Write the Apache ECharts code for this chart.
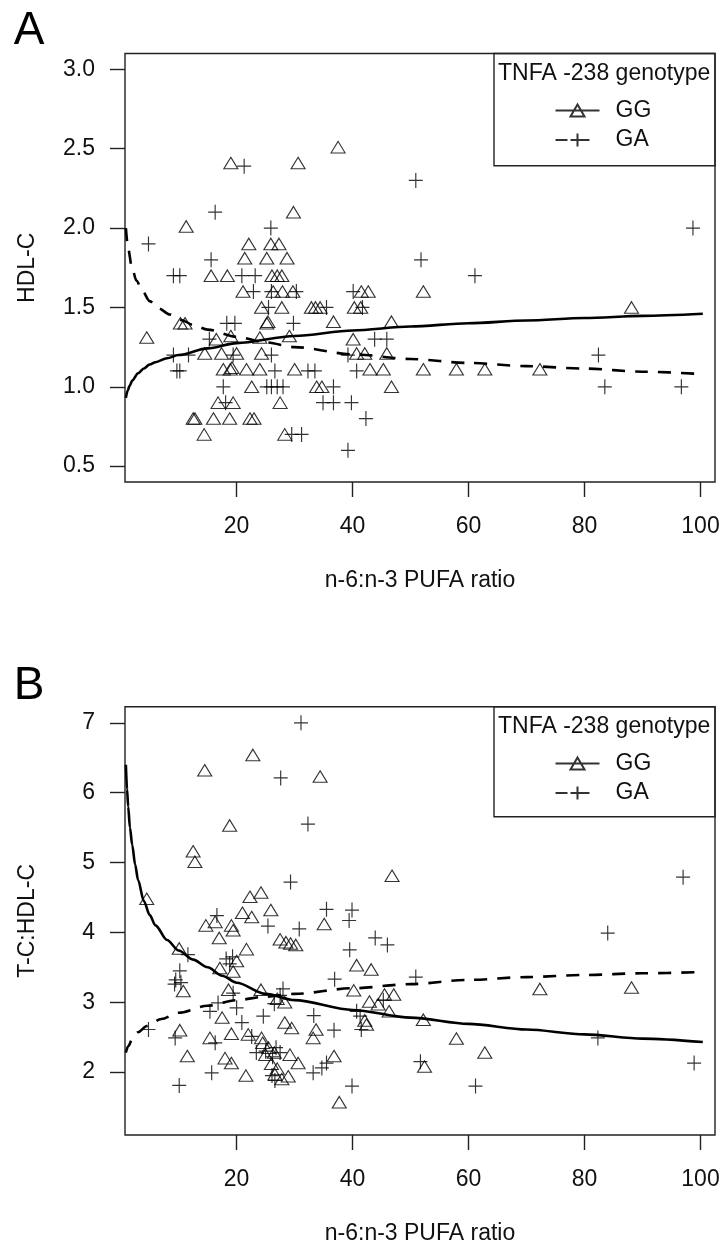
<!DOCTYPE html>
<html>
<head>
<meta charset="utf-8">
<script src="https://cdn.jsdelivr.net/npm/echarts@6/dist/echarts.min.js"></script>
<style>
html, body { margin: 0; padding: 0; background: #fff; }
#chart { width: 723px; height: 1246px; }
</style>
</head>
<body>
<div id="chart"></div>
<script>
// Axis ticks
const xTicks = [20, 40, 60, 80, 100];
const yTicksA = [0.5, 1.0, 1.5, 2.0, 2.5, 3.0];
const yTicksB = [2, 3, 4, 5, 6, 7];

// Panel A: HDL-C vs n-6:n-3 PUFA ratio, GG genotype
const ggA = [
  [37.5, 2.51], [19.0, 2.41], [30.6, 2.41], [29.8, 2.10], [11.3, 2.01],
  [22.1, 1.90], [25.9, 1.90], [27.3, 1.90],
  [21.4, 1.81], [25.2, 1.81], [28.7, 1.81],
  [15.6, 1.70], [18.4, 1.70], [26.1, 1.70], [27.0, 1.70], [27.8, 1.70],
  [21.1, 1.60], [26.3, 1.60], [27.9, 1.60], [29.7, 1.60], [41.5, 1.60], [42.7, 1.60], [52.2, 1.60],
  [24.3, 1.50], [27.8, 1.50], [32.9, 1.50], [33.6, 1.50], [34.4, 1.50], [40.3, 1.50], [41.4, 1.50], [88.1, 1.50],
  [10.3, 1.40], [11.1, 1.40], [25.2, 1.40], [25.4, 1.41], [36.7, 1.41], [46.7, 1.41],
  [4.5, 1.31], [16.5, 1.30], [19.0, 1.32], [24.0, 1.31], [29.1, 1.32], [40.1, 1.30],
  [14.5, 1.21], [17.4, 1.21], [20.0, 1.21], [24.3, 1.21], [40.7, 1.21], [42.1, 1.21], [45.9, 1.21],
  [17.7, 1.11], [18.9, 1.11], [19.2, 1.12], [21.7, 1.11], [24.0, 1.11], [30.0, 1.11], [43.0, 1.11],
  [45.3, 1.11], [52.2, 1.11], [57.9, 1.11], [62.8, 1.11], [72.3, 1.11],
  [22.6, 1.00], [33.8, 1.00], [34.7, 1.00], [46.7, 1.00],
  [16.8, 0.90], [19.4, 0.90], [27.5, 0.90],
  [12.5, 0.80], [12.8, 0.80], [16.0, 0.80], [18.8, 0.80], [22.3, 0.80], [23.0, 0.80],
  [14.4, 0.70], [28.3, 0.70]
];
// Panel A, GA genotype
const gaA = [
  [21.3, 2.39], [50.9, 2.30], [16.3, 2.10], [25.9, 2.00], [98.7, 2.00], [4.8, 1.90],
  [15.6, 1.80], [51.8, 1.80], [9.1, 1.70], [10.2, 1.70], [20.9, 1.70], [23.2, 1.70], [61.1, 1.70],
  [22.9, 1.60], [26.0, 1.60], [30.3, 1.60], [40.1, 1.60],
  [25.5, 1.50], [35.5, 1.50], [41.7, 1.50],
  [18.3, 1.40], [19.7, 1.40], [29.8, 1.40],
  [15.3, 1.30], [43.8, 1.30], [45.9, 1.30],
  [9.1, 1.20], [11.7, 1.20], [19.4, 1.20], [26.0, 1.20], [39.2, 1.20], [82.4, 1.20],
  [9.7, 1.10], [10.2, 1.10], [26.6, 1.10], [32.3, 1.10], [33.5, 1.10], [40.7, 1.10],
  [17.7, 1.00], [25.2, 1.00], [26.0, 1.00], [27.0, 1.00], [28.0, 1.00], [36.7, 1.00], [83.5, 1.00], [96.7, 1.00],
  [18.1, 0.90], [34.9, 0.90], [36.7, 0.90], [39.8, 0.90],
  [42.3, 0.80],
  [29.5, 0.70], [31.2, 0.70],
  [39.2, 0.60]
];
// Panel A fitted curves
const fitGGA = [
  [0.9, 0.93], [1.2, 0.975], [1.6, 1.01], [2, 1.04], [3, 1.085], [4, 1.115], [5, 1.14],
  [6, 1.155], [8, 1.18], [10, 1.2], [15, 1.242], [20, 1.275], [30, 1.32], [40, 1.355],
  [50, 1.38], [60, 1.40], [70, 1.418], [80, 1.433], [90, 1.447], [100.4, 1.46]
];
const fitGAA = [
  [0.9, 2.0], [1.3, 1.87], [1.9, 1.76], [2.7, 1.67], [3.8, 1.6], [5, 1.54], [6.5, 1.495],
  [8.5, 1.455], [10.5, 1.42], [12.5, 1.39], [15, 1.36], [20, 1.315], [25, 1.28], [30, 1.25],
  [40, 1.205], [50, 1.175], [60, 1.15], [70, 1.13], [80, 1.115], [90, 1.095], [100.4, 1.08]
];

// Panel B: T-C:HDL-C vs n-6:n-3 PUFA ratio, GG genotype
const ggB = [
  [22.8, 6.54], [14.5, 6.32], [34.4, 6.23], [18.8, 5.53], [12.5, 5.16], [12.8, 5.01], [46.8, 4.81],
  [4.5, 4.48], [22.3, 4.51], [24.2, 4.57], [25.9, 4.32], [21.0, 4.28], [22.6, 4.22], [14.7, 4.10],
  [16.3, 4.15], [19.1, 4.10], [19.4, 4.03], [35.1, 4.12], [17.0, 3.92], [27.5, 3.90], [28.5, 3.86],
  [29.3, 3.84], [30.2, 3.82], [21.7, 3.76], [10.1, 3.77], [20.0, 3.59], [17.1, 3.49], [19.4, 3.44],
  [40.7, 3.53], [43.2, 3.47], [10.8, 3.16], [18.6, 3.18], [24.2, 3.18], [40.2, 3.17], [42.9, 3.01],
  [45.5, 3.11], [47.1, 3.11], [44.4, 2.97], [46.3, 2.87], [27.0, 3.05], [28.3, 3.00], [72.3, 3.19],
  [88.1, 3.21], [17.5, 2.78], [10.2, 2.60], [15.4, 2.49], [19.1, 2.55], [22.0, 2.54], [24.3, 2.49],
  [28.3, 2.71], [29.5, 2.63], [33.7, 2.61], [33.2, 2.49], [42.1, 2.74], [42.4, 2.68], [52.2, 2.75],
  [57.9, 2.48], [62.8, 2.28], [11.5, 2.23], [18.0, 2.20], [19.1, 2.13], [24.5, 2.42], [25.5, 2.35],
  [26.5, 2.28], [25.0, 2.25], [26.0, 2.12], [27.0, 2.05], [29.2, 2.25], [30.6, 2.13], [36.8, 2.23],
  [21.6, 1.95], [26.6, 1.97], [27.8, 1.90], [28.9, 1.94], [52.4, 2.08], [37.7, 1.57]
];
// Panel B, GA genotype
const gaB = [
  [31.1, 7.00], [27.6, 6.21], [32.3, 5.55], [29.3, 4.72], [97.0, 4.79], [35.5, 4.33], [39.9, 4.32],
  [39.4, 4.17], [16.6, 4.24], [25.4, 4.09], [30.8, 4.05], [43.9, 3.92], [46.0, 3.82], [84.0, 3.99],
  [39.5, 3.75], [11.6, 3.68], [18.2, 3.62], [19.3, 3.65], [18.8, 3.55], [10.2, 3.45], [9.5, 3.32],
  [10.4, 3.28], [9.3, 3.26], [36.9, 3.33], [50.9, 3.36], [19.4, 3.13], [20.0, 2.92], [16.8, 2.99],
  [28.0, 3.19], [27.5, 3.10], [26.5, 2.98], [15.4, 2.87], [24.6, 2.80], [33.3, 2.81], [40.7, 2.87],
  [41.3, 2.80], [41.5, 2.61], [45.3, 3.03], [36.8, 2.60], [4.8, 2.61], [9.4, 2.49], [16.3, 2.42],
  [20.9, 2.71], [22.6, 2.51], [23.4, 2.28], [25.0, 2.30], [26.8, 2.35], [26.2, 2.22], [27.5, 2.28],
  [26.1, 1.95], [26.6, 1.88], [15.7, 1.99], [10.1, 1.81], [33.2, 1.99], [34.7, 2.06], [35.5, 2.13],
  [39.9, 1.80], [51.7, 2.15], [61.2, 1.80], [82.3, 2.49], [98.9, 2.13]
];
// Panel B fitted curves
const fitGGB = [
  [0.9, 6.4], [1.1, 6.05], [1.3, 5.8], [1.6, 5.5], [2, 5.25], [2.5, 4.97], [3, 4.75],
  [4, 4.45], [5, 4.25], [6, 4.1], [8, 3.89], [10, 3.74], [12.5, 3.61], [15, 3.5],
  [17.5, 3.38], [20, 3.28], [25, 3.12], [30, 3.03], [40, 2.89], [50, 2.78], [60, 2.69],
  [70, 2.61], [80, 2.54], [90, 2.48], [100.4, 2.43]
];
const fitGAB = [
  [0.9, 2.28], [1.3, 2.37], [2, 2.47], [3, 2.57], [4.5, 2.66], [7, 2.76], [10, 2.85],
  [15, 2.95], [20, 3.03], [25, 3.08], [30, 3.12], [40, 3.2], [50, 3.26], [60, 3.32],
  [70, 3.36], [80, 3.39], [90, 3.415], [99.6, 3.43]
];

const FONT = "'Liberation Sans', Arial, Helvetica, sans-serif";
const FS = 23;
const INK = '#111';
const FRAME = '#222';
const PLUS = 'path://M0,7.5L14,7.5M7,0L7,15';
const ICON_GG = 'path://M0,0M55,14M0,7L44,7M15,13L29,13L22,1Z';
const ICON_GA = 'path://M0,0M55,14M0,7L12,7M22,7L34,7M15,7L29,7M22,0.5L22,13.5';

const chart = echarts.init(document.getElementById('chart'), null, { renderer: 'canvas' });

function xAxisFor(gi) {
  return {
    type: 'value', gridIndex: gi, min: 0.75, max: 102.5,
    name: 'n-6:n-3 PUFA ratio', nameLocation: 'middle', nameGap: 87,
    nameTextStyle: { fontSize: FS, color: INK, fontFamily: FONT },
    axisLine: { show: false },
    splitLine: { show: false },
    axisTick: { show: true, length: 15, customValues: xTicks, lineStyle: { color: FRAME, width: 1.4 } },
    axisLabel: { customValues: xTicks, margin: 33, fontSize: FS, color: INK, fontFamily: FONT }
  };
}
function yAxisFor(gi, min, max, ticks, name, digits) {
  return {
    type: 'value', gridIndex: gi, min: min, max: max,
    name: name, nameLocation: 'middle', nameGap: 85.5,
    nameTextStyle: { fontSize: FS, color: INK, fontFamily: FONT },
    axisLine: { show: false },
    splitLine: { show: false },
    axisTick: { show: true, length: 15, customValues: ticks, lineStyle: { color: FRAME, width: 1.4 } },
    axisLabel: {
      customValues: ticks, margin: 30, fontSize: FS, color: INK, fontFamily: FONT,
      formatter: v => Number(v).toFixed(digits)
    }
  };
}
function legendFor(top) {
  return {
    orient: 'vertical', left: 553, top: top, padding: 0,
    itemWidth: 55, itemHeight: 14, itemGap: 6.5,
    selectedMode: false,
    data: [{ name: 'GG', icon: ICON_GG }, { name: 'GA', icon: ICON_GA }],
    itemStyle: { color: 'none', borderColor: '#000', borderWidth: 2 },
    textStyle: { fontSize: FS, color: INK, fontFamily: FONT }
  };
}
function pointSeries(name, data, gi, isPlus) {
  return {
    type: 'scatter', name: name, xAxisIndex: gi, yAxisIndex: gi, data: data,
    symbol: isPlus ? PLUS : 'triangle',
    symbolSize: isPlus ? [14, 15] : [14, 11.5],
    itemStyle: { color: 'transparent', borderColor: '#000', borderWidth: isPlus ? 1.2 : 1.1 },
    emphasis: { disabled: true }, silent: true, z: 2
  };
}
function curveSeries(name, data, gi, dashed) {
  return {
    type: 'line', name: name, xAxisIndex: gi, yAxisIndex: gi, data: data,
    showSymbol: false, smooth: 0.3, smoothMonotone: 'x',
    lineStyle: { color: '#000', width: 2.6, type: dashed ? [13, 10] : 'solid' },
    emphasis: { disabled: true }, silent: true, z: 3
  };
}
function legendBox(y, h, titleY) {
  return [
    { type: 'rect', shape: { x: 494, y: y, width: 221, height: h },
      style: { fill: 'none', stroke: FRAME, lineWidth: 1.4 }, z: 10 },
    { type: 'text', x: 498, y: titleY,
      style: { text: 'TNFA -238 genotype', fontSize: FS, fontFamily: FONT, fill: INK,
               align: 'left', verticalAlign: 'middle' }, z: 10 }
  ];
}

chart.setOption({
  animation: false,
  backgroundColor: '#fff',
  grid: [
    { left: 125, top: 53.5, width: 590, height: 428.5, show: true,
      borderColor: FRAME, borderWidth: 1.4, backgroundColor: 'transparent' },
    { left: 125, top: 706.7, width: 590, height: 428.8, show: true,
      borderColor: FRAME, borderWidth: 1.4, backgroundColor: 'transparent' }
  ],
  xAxis: [xAxisFor(0), xAxisFor(1)],
  yAxis: [
    yAxisFor(0, 0.4, 3.1, yTicksA, 'HDL-C', 1),
    yAxisFor(1, 1.1, 7.23, yTicksB, 'T-C:HDL-C', 0)
  ],
  legend: [legendFor(99), legendFor(752)],
  graphic: [
    { type: 'text', x: 29, y: 31.5,
      style: { text: 'A', fontSize: 46, fontFamily: FONT, fill: '#000', align: 'center', verticalAlign: 'middle' } },
    { type: 'text', x: 29, y: 686,
      style: { text: 'B', fontSize: 46, fontFamily: FONT, fill: '#000', align: 'center', verticalAlign: 'middle' } }
  ].concat(legendBox(53.5, 112.2, 73.3), legendBox(706.7, 110, 726.7)),
  series: [
    pointSeries('GG', ggA, 0, false),
    pointSeries('GA', gaA, 0, true),
    curveSeries('GG', fitGGA, 0, false),
    curveSeries('GA', fitGAA, 0, true),
    pointSeries('GG', ggB, 1, false),
    pointSeries('GA', gaB, 1, true),
    curveSeries('GG', fitGGB, 1, false),
    curveSeries('GA', fitGAB, 1, true)
  ]
});
</script>
</body>
</html>
